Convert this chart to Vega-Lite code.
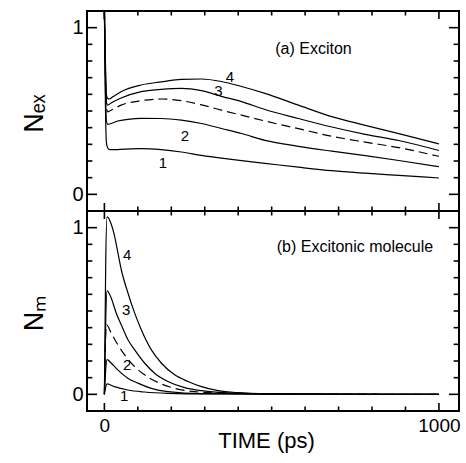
{
  "$schema": "https://vega.github.io/schema/vega-lite/v6.json",
  "padding": {"left": 19, "top": 7, "right": 5, "bottom": 5},
  "bounds": "flush",
  "spacing": 0,
  "datasets": {
    "ex": [
      {"s": "1", "t": 0, "v": 1.1}, {"s": "1", "t": 3, "v": 0.55}, {"s": "1", "t": 6, "v": 0.31}, {"s": "1", "t": 10, "v": 0.278}, {"s": "1", "t": 16, "v": 0.268}, {"s": "1", "t": 30, "v": 0.268}, {"s": "1", "t": 60, "v": 0.271}, {"s": "1", "t": 110, "v": 0.274}, {"s": "1", "t": 170, "v": 0.268}, {"s": "1", "t": 230, "v": 0.254}, {"s": "1", "t": 290, "v": 0.234}, {"s": "1", "t": 350, "v": 0.217}, {"s": "1", "t": 410, "v": 0.202}, {"s": "1", "t": 480, "v": 0.186}, {"s": "1", "t": 580, "v": 0.163}, {"s": "1", "t": 680, "v": 0.142}, {"s": "1", "t": 780, "v": 0.127}, {"s": "1", "t": 880, "v": 0.114}, {"s": "1", "t": 1000, "v": 0.098},
      {"s": "2", "t": 0, "v": 1.1}, {"s": "2", "t": 3, "v": 0.65}, {"s": "2", "t": 6, "v": 0.44}, {"s": "2", "t": 10, "v": 0.42}, {"s": "2", "t": 20, "v": 0.425}, {"s": "2", "t": 40, "v": 0.44}, {"s": "2", "t": 70, "v": 0.45}, {"s": "2", "t": 110, "v": 0.456}, {"s": "2", "t": 170, "v": 0.455}, {"s": "2", "t": 230, "v": 0.445}, {"s": "2", "t": 290, "v": 0.425}, {"s": "2", "t": 350, "v": 0.395}, {"s": "2", "t": 410, "v": 0.365}, {"s": "2", "t": 480, "v": 0.324}, {"s": "2", "t": 580, "v": 0.288}, {"s": "2", "t": 680, "v": 0.259}, {"s": "2", "t": 780, "v": 0.232}, {"s": "2", "t": 880, "v": 0.203}, {"s": "2", "t": 1000, "v": 0.166},
      {"s": "d", "t": 0, "v": 1.1}, {"s": "d", "t": 3, "v": 0.7}, {"s": "d", "t": 6, "v": 0.52}, {"s": "d", "t": 10, "v": 0.495}, {"s": "d", "t": 20, "v": 0.505}, {"s": "d", "t": 50, "v": 0.535}, {"s": "d", "t": 110, "v": 0.562}, {"s": "d", "t": 170, "v": 0.572}, {"s": "d", "t": 230, "v": 0.562}, {"s": "d", "t": 290, "v": 0.537}, {"s": "d", "t": 350, "v": 0.505}, {"s": "d", "t": 410, "v": 0.475}, {"s": "d", "t": 480, "v": 0.44}, {"s": "d", "t": 580, "v": 0.394}, {"s": "d", "t": 680, "v": 0.348}, {"s": "d", "t": 780, "v": 0.313}, {"s": "d", "t": 880, "v": 0.28}, {"s": "d", "t": 1000, "v": 0.228},
      {"s": "3", "t": 0, "v": 1.1}, {"s": "3", "t": 3, "v": 0.75}, {"s": "3", "t": 6, "v": 0.555}, {"s": "3", "t": 10, "v": 0.535}, {"s": "3", "t": 20, "v": 0.548}, {"s": "3", "t": 50, "v": 0.578}, {"s": "3", "t": 110, "v": 0.616}, {"s": "3", "t": 170, "v": 0.63}, {"s": "3", "t": 230, "v": 0.636}, {"s": "3", "t": 290, "v": 0.622}, {"s": "3", "t": 350, "v": 0.588}, {"s": "3", "t": 410, "v": 0.556}, {"s": "3", "t": 480, "v": 0.509}, {"s": "3", "t": 580, "v": 0.455}, {"s": "3", "t": 680, "v": 0.404}, {"s": "3", "t": 780, "v": 0.36}, {"s": "3", "t": 880, "v": 0.323}, {"s": "3", "t": 1000, "v": 0.263},
      {"s": "4", "t": 0, "v": 1.1}, {"s": "4", "t": 3, "v": 0.8}, {"s": "4", "t": 6, "v": 0.6}, {"s": "4", "t": 10, "v": 0.575}, {"s": "4", "t": 15, "v": 0.572}, {"s": "4", "t": 25, "v": 0.585}, {"s": "4", "t": 50, "v": 0.616}, {"s": "4", "t": 110, "v": 0.656}, {"s": "4", "t": 170, "v": 0.675}, {"s": "4", "t": 230, "v": 0.69}, {"s": "4", "t": 290, "v": 0.692}, {"s": "4", "t": 350, "v": 0.677}, {"s": "4", "t": 410, "v": 0.647}, {"s": "4", "t": 480, "v": 0.606}, {"s": "4", "t": 580, "v": 0.535}, {"s": "4", "t": 680, "v": 0.466}, {"s": "4", "t": 780, "v": 0.414}, {"s": "4", "t": 880, "v": 0.364}, {"s": "4", "t": 1000, "v": 0.303}
    ],
    "m": [
      {"s": "4", "t": 0, "v": 0}, {"s": "4", "t": 4, "v": 0.8}, {"s": "4", "t": 8, "v": 1.065}, {"s": "4", "t": 20, "v": 1.024}, {"s": "4", "t": 30, "v": 0.954}, {"s": "4", "t": 40, "v": 0.853}, {"s": "4", "t": 50, "v": 0.752}, {"s": "4", "t": 70, "v": 0.611}, {"s": "4", "t": 90, "v": 0.49}, {"s": "4", "t": 110, "v": 0.389}, {"s": "4", "t": 140, "v": 0.268}, {"s": "4", "t": 170, "v": 0.188}, {"s": "4", "t": 210, "v": 0.117}, {"s": "4", "t": 250, "v": 0.077}, {"s": "4", "t": 290, "v": 0.046}, {"s": "4", "t": 340, "v": 0.022}, {"s": "4", "t": 400, "v": 0.01}, {"s": "4", "t": 500, "v": 0.003}, {"s": "4", "t": 600, "v": 0.001}, {"s": "4", "t": 1000, "v": 0},
      {"s": "3", "t": 0, "v": 0}, {"s": "3", "t": 4, "v": 0.45}, {"s": "3", "t": 8, "v": 0.621}, {"s": "3", "t": 20, "v": 0.58}, {"s": "3", "t": 35, "v": 0.49}, {"s": "3", "t": 50, "v": 0.419}, {"s": "3", "t": 70, "v": 0.329}, {"s": "3", "t": 90, "v": 0.268}, {"s": "3", "t": 120, "v": 0.188}, {"s": "3", "t": 150, "v": 0.127}, {"s": "3", "t": 190, "v": 0.077}, {"s": "3", "t": 240, "v": 0.04}, {"s": "3", "t": 290, "v": 0.022}, {"s": "3", "t": 390, "v": 0.006}, {"s": "3", "t": 500, "v": 0.001}, {"s": "3", "t": 1000, "v": 0},
      {"s": "d", "t": 0, "v": 0}, {"s": "d", "t": 3, "v": 0.3}, {"s": "d", "t": 6, "v": 0.419}, {"s": "d", "t": 20, "v": 0.369}, {"s": "d", "t": 40, "v": 0.298}, {"s": "d", "t": 60, "v": 0.238}, {"s": "d", "t": 90, "v": 0.167}, {"s": "d", "t": 120, "v": 0.117}, {"s": "d", "t": 160, "v": 0.071}, {"s": "d", "t": 210, "v": 0.036}, {"s": "d", "t": 270, "v": 0.016}, {"s": "d", "t": 400, "v": 0.004}, {"s": "d", "t": 1000, "v": 0},
      {"s": "2", "t": 0, "v": 0}, {"s": "2", "t": 4, "v": 0.15}, {"s": "2", "t": 8, "v": 0.208}, {"s": "2", "t": 20, "v": 0.188}, {"s": "2", "t": 40, "v": 0.147}, {"s": "2", "t": 70, "v": 0.097}, {"s": "2", "t": 100, "v": 0.067}, {"s": "2", "t": 140, "v": 0.036}, {"s": "2", "t": 190, "v": 0.016}, {"s": "2", "t": 290, "v": 0.004}, {"s": "2", "t": 1000, "v": 0},
      {"s": "1", "t": 0, "v": 0}, {"s": "1", "t": 4, "v": 0.045}, {"s": "1", "t": 8, "v": 0.0625}, {"s": "1", "t": 30, "v": 0.046}, {"s": "1", "t": 70, "v": 0.026}, {"s": "1", "t": 120, "v": 0.014}, {"s": "1", "t": 190, "v": 0.006}, {"s": "1", "t": 300, "v": 0.002}, {"s": "1", "t": 1000, "v": 0}
    ],
    "exlab": [
      {"t": 375, "v": 0.707, "l": "4"}, {"t": 341, "v": 0.62, "l": "3"}, {"t": 241, "v": 0.353, "l": "2"}, {"t": 175, "v": 0.191, "l": "1"}
    ],
    "mlab": [
      {"t": 68, "v": 0.839, "l": "4"}, {"t": 65, "v": 0.509, "l": "3"}, {"t": 68, "v": 0.179, "l": "2"}, {"t": 59, "v": -0.01, "l": "1"}
    ],
    "extitle": [{"t": 625, "v": 0.845, "l": "(a) Exciton"}],
    "mtitle": [{"t": 749, "v": 0.855, "l": "(b)  Excitonic molecule"}],
    "xmaj": [{"t": 0}, {"t": 1000}],
    "xmin": [{"t": 100}, {"t": 200}, {"t": 300}, {"t": 400}, {"t": 500}, {"t": 600}, {"t": 700}, {"t": 800}, {"t": 900}],
    "ymaj": [{"v": 0}, {"v": 1}],
    "ymin": [{"v": 0.1}, {"v": 0.2}, {"v": 0.3}, {"v": 0.4}, {"v": 0.5}, {"v": 0.6}, {"v": 0.7}, {"v": 0.8}, {"v": 0.9}]
  },
  "vconcat": [
    {
      "width": 372,
      "height": 200,
      "layer": [
        {
          "data": {"name": "ex"},
          "transform": [{"filter": "datum.s != 'd'"}],
          "mark": {"type": "line", "interpolate": "monotone", "color": "black", "strokeWidth": 1.2},
          "encoding": {
            "x": {"field": "t", "type": "quantitative", "scale": {"domain": [-52, 1060], "nice": false, "zero": false},
                  "axis": {"orient": "bottom", "values": [0, 1000], "ticks": false, "tickSize": 0, "labels": false, "title": null}},
            "y": {"field": "v", "type": "quantitative", "scale": {"domain": [-0.1, 1.1], "nice": false, "zero": false},
                  "axis": {"orient": "left", "values": [0, 1], "format": "d", "ticks": false, "tickSize": 0, "labelPadding": 4, "labelFontSize": 20,
                           "title": "Nₑₓ", "titleFontSize": 27, "titleX": -45, "titleY": 102, "titleBaseline": "alphabetic", "titleAngle": 270}},
            "detail": {"field": "s"}
          }
        },
        {
          "data": {"name": "ex"},
          "transform": [{"filter": "datum.s == 'd'"}],
          "mark": {"type": "line", "interpolate": "monotone", "color": "black", "strokeWidth": 1.2, "strokeDash": [9, 5]},
          "encoding": {
            "x": {"field": "t", "type": "quantitative", "scale": {"domain": [-52, 1060], "nice": false, "zero": false}, "axis": null},
            "y": {"field": "v", "type": "quantitative", "scale": {"domain": [-0.1, 1.1], "nice": false, "zero": false}, "axis": null}
          }
        },
        {
          "data": {"name": "exlab"},
          "mark": {"type": "text", "fontSize": 15, "align": "center", "baseline": "middle"},
          "encoding": {
            "x": {"field": "t", "type": "quantitative", "scale": {"domain": [-52, 1060], "nice": false, "zero": false}, "axis": null},
            "y": {"field": "v", "type": "quantitative", "scale": {"domain": [-0.1, 1.1], "nice": false, "zero": false}, "axis": null},
            "text": {"field": "l"}
          }
        },
        {
          "data": {"name": "extitle"},
          "mark": {"type": "text", "fontSize": 16, "align": "center", "baseline": "alphabetic"},
          "encoding": {
            "x": {"field": "t", "type": "quantitative", "scale": {"domain": [-52, 1060], "nice": false, "zero": false}, "axis": null},
            "y": {"field": "v", "type": "quantitative", "scale": {"domain": [-0.1, 1.1], "nice": false, "zero": false}, "axis": null},
            "text": {"field": "l"}
          }
        },
        {
          "data": {"name": "xmaj"},
          "mark": {"type": "rule", "color": "black", "strokeWidth": 1.6},
          "encoding": {
            "x": {"field": "t", "type": "quantitative", "scale": {"domain": [-52, 1060], "nice": false, "zero": false}, "axis": null},
            "y": {"datum": 1.1, "type": "quantitative", "scale": {"domain": [-0.1, 1.1], "nice": false, "zero": false}, "axis": null},
            "y2": {"datum": 1.052}
          }
        },
        {
          "data": {"name": "xmaj"},
          "mark": {"type": "rule", "color": "black", "strokeWidth": 1.6},
          "encoding": {
            "x": {"field": "t", "type": "quantitative", "scale": {"domain": [-52, 1060], "nice": false, "zero": false}, "axis": null},
            "y": {"datum": -0.1, "type": "quantitative", "scale": {"domain": [-0.1, 1.1], "nice": false, "zero": false}, "axis": null},
            "y2": {"datum": -0.052}
          }
        },
        {
          "data": {"name": "xmin"},
          "mark": {"type": "rule", "color": "black", "strokeWidth": 1.6},
          "encoding": {
            "x": {"field": "t", "type": "quantitative", "scale": {"domain": [-52, 1060], "nice": false, "zero": false}, "axis": null},
            "y": {"datum": 1.1, "type": "quantitative", "scale": {"domain": [-0.1, 1.1], "nice": false, "zero": false}, "axis": null},
            "y2": {"datum": 1.073}
          }
        },
        {
          "data": {"name": "xmin"},
          "mark": {"type": "rule", "color": "black", "strokeWidth": 1.6},
          "encoding": {
            "x": {"field": "t", "type": "quantitative", "scale": {"domain": [-52, 1060], "nice": false, "zero": false}, "axis": null},
            "y": {"datum": -0.1, "type": "quantitative", "scale": {"domain": [-0.1, 1.1], "nice": false, "zero": false}, "axis": null},
            "y2": {"datum": -0.073}
          }
        },
        {
          "data": {"name": "ymaj"},
          "mark": {"type": "rule", "color": "black", "strokeWidth": 1.6},
          "encoding": {
            "y": {"field": "v", "type": "quantitative", "scale": {"domain": [-0.1, 1.1], "nice": false, "zero": false}, "axis": null},
            "x": {"datum": -52, "type": "quantitative", "scale": {"domain": [-52, 1060], "nice": false, "zero": false}, "axis": null},
            "x2": {"datum": -22}
          }
        },
        {
          "data": {"name": "ymaj"},
          "mark": {"type": "rule", "color": "black", "strokeWidth": 1.6},
          "encoding": {
            "y": {"field": "v", "type": "quantitative", "scale": {"domain": [-0.1, 1.1], "nice": false, "zero": false}, "axis": null},
            "x": {"datum": 1060, "type": "quantitative", "scale": {"domain": [-52, 1060], "nice": false, "zero": false}, "axis": null},
            "x2": {"datum": 1030}
          }
        },
        {
          "data": {"name": "ymin"},
          "mark": {"type": "rule", "color": "black", "strokeWidth": 1.6},
          "encoding": {
            "y": {"field": "v", "type": "quantitative", "scale": {"domain": [-0.1, 1.1], "nice": false, "zero": false}, "axis": null},
            "x": {"datum": -52, "type": "quantitative", "scale": {"domain": [-52, 1060], "nice": false, "zero": false}, "axis": null},
            "x2": {"datum": -36}
          }
        },
        {
          "data": {"name": "ymin"},
          "mark": {"type": "rule", "color": "black", "strokeWidth": 1.6},
          "encoding": {
            "y": {"field": "v", "type": "quantitative", "scale": {"domain": [-0.1, 1.1], "nice": false, "zero": false}, "axis": null},
            "x": {"datum": 1060, "type": "quantitative", "scale": {"domain": [-52, 1060], "nice": false, "zero": false}, "axis": null},
            "x2": {"datum": 1044}
          }
        }
      ],
      "resolve": {"axis": {"x": "independent", "y": "independent"}}
    },
    {
      "width": 372,
      "height": 200,
      "layer": [
        {
          "data": {"name": "m"},
          "transform": [{"filter": "datum.s != 'd'"}],
          "mark": {"type": "line", "interpolate": "monotone", "color": "black", "strokeWidth": 1.2},
          "encoding": {
            "x": {"field": "t", "type": "quantitative", "scale": {"domain": [-52, 1060], "nice": false, "zero": false},
                  "axis": {"orient": "bottom", "values": [0, 1000], "format": "d", "ticks": false, "tickSize": 0, "labelPadding": 5, "labelFontSize": 19,
                           "title": "TIME (ps)", "titleFontSize": 22, "titleX": 179, "titleY": 36, "titleBaseline": "alphabetic"}},
            "y": {"field": "v", "type": "quantitative", "scale": {"domain": [-0.1, 1.1], "nice": false, "zero": false},
                  "axis": {"orient": "left", "values": [0, 1], "format": "d", "ticks": false, "tickSize": 0, "labelPadding": 4, "labelFontSize": 20,
                           "title": "Nₘ", "titleFontSize": 27, "titleX": -45, "titleY": 102, "titleBaseline": "alphabetic", "titleAngle": 270}},
            "detail": {"field": "s"}
          }
        },
        {
          "data": {"name": "m"},
          "transform": [{"filter": "datum.s == 'd'"}],
          "mark": {"type": "line", "interpolate": "monotone", "color": "black", "strokeWidth": 1.2, "strokeDash": [9, 5]},
          "encoding": {
            "x": {"field": "t", "type": "quantitative", "scale": {"domain": [-52, 1060], "nice": false, "zero": false}, "axis": null},
            "y": {"field": "v", "type": "quantitative", "scale": {"domain": [-0.1, 1.1], "nice": false, "zero": false}, "axis": null}
          }
        },
        {
          "data": {"name": "mlab"},
          "mark": {"type": "text", "fontSize": 15, "align": "center", "baseline": "middle"},
          "encoding": {
            "x": {"field": "t", "type": "quantitative", "scale": {"domain": [-52, 1060], "nice": false, "zero": false}, "axis": null},
            "y": {"field": "v", "type": "quantitative", "scale": {"domain": [-0.1, 1.1], "nice": false, "zero": false}, "axis": null},
            "text": {"field": "l"}
          }
        },
        {
          "data": {"name": "mtitle"},
          "mark": {"type": "text", "fontSize": 16, "align": "center", "baseline": "alphabetic"},
          "encoding": {
            "x": {"field": "t", "type": "quantitative", "scale": {"domain": [-52, 1060], "nice": false, "zero": false}, "axis": null},
            "y": {"field": "v", "type": "quantitative", "scale": {"domain": [-0.1, 1.1], "nice": false, "zero": false}, "axis": null},
            "text": {"field": "l"}
          }
        },
        {
          "data": {"name": "xmaj"},
          "mark": {"type": "rule", "color": "black", "strokeWidth": 1.6},
          "encoding": {
            "x": {"field": "t", "type": "quantitative", "scale": {"domain": [-52, 1060], "nice": false, "zero": false}, "axis": null},
            "y": {"datum": 1.1, "type": "quantitative", "scale": {"domain": [-0.1, 1.1], "nice": false, "zero": false}, "axis": null},
            "y2": {"datum": 1.052}
          }
        },
        {
          "data": {"name": "xmaj"},
          "mark": {"type": "rule", "color": "black", "strokeWidth": 1.6},
          "encoding": {
            "x": {"field": "t", "type": "quantitative", "scale": {"domain": [-52, 1060], "nice": false, "zero": false}, "axis": null},
            "y": {"datum": -0.1, "type": "quantitative", "scale": {"domain": [-0.1, 1.1], "nice": false, "zero": false}, "axis": null},
            "y2": {"datum": -0.052}
          }
        },
        {
          "data": {"name": "xmin"},
          "mark": {"type": "rule", "color": "black", "strokeWidth": 1.6},
          "encoding": {
            "x": {"field": "t", "type": "quantitative", "scale": {"domain": [-52, 1060], "nice": false, "zero": false}, "axis": null},
            "y": {"datum": 1.1, "type": "quantitative", "scale": {"domain": [-0.1, 1.1], "nice": false, "zero": false}, "axis": null},
            "y2": {"datum": 1.073}
          }
        },
        {
          "data": {"name": "xmin"},
          "mark": {"type": "rule", "color": "black", "strokeWidth": 1.6},
          "encoding": {
            "x": {"field": "t", "type": "quantitative", "scale": {"domain": [-52, 1060], "nice": false, "zero": false}, "axis": null},
            "y": {"datum": -0.1, "type": "quantitative", "scale": {"domain": [-0.1, 1.1], "nice": false, "zero": false}, "axis": null},
            "y2": {"datum": -0.073}
          }
        },
        {
          "data": {"name": "ymaj"},
          "mark": {"type": "rule", "color": "black", "strokeWidth": 1.6},
          "encoding": {
            "y": {"field": "v", "type": "quantitative", "scale": {"domain": [-0.1, 1.1], "nice": false, "zero": false}, "axis": null},
            "x": {"datum": -52, "type": "quantitative", "scale": {"domain": [-52, 1060], "nice": false, "zero": false}, "axis": null},
            "x2": {"datum": -22}
          }
        },
        {
          "data": {"name": "ymaj"},
          "mark": {"type": "rule", "color": "black", "strokeWidth": 1.6},
          "encoding": {
            "y": {"field": "v", "type": "quantitative", "scale": {"domain": [-0.1, 1.1], "nice": false, "zero": false}, "axis": null},
            "x": {"datum": 1060, "type": "quantitative", "scale": {"domain": [-52, 1060], "nice": false, "zero": false}, "axis": null},
            "x2": {"datum": 1030}
          }
        },
        {
          "data": {"name": "ymin"},
          "mark": {"type": "rule", "color": "black", "strokeWidth": 1.6},
          "encoding": {
            "y": {"field": "v", "type": "quantitative", "scale": {"domain": [-0.1, 1.1], "nice": false, "zero": false}, "axis": null},
            "x": {"datum": -52, "type": "quantitative", "scale": {"domain": [-52, 1060], "nice": false, "zero": false}, "axis": null},
            "x2": {"datum": -36}
          }
        },
        {
          "data": {"name": "ymin"},
          "mark": {"type": "rule", "color": "black", "strokeWidth": 1.6},
          "encoding": {
            "y": {"field": "v", "type": "quantitative", "scale": {"domain": [-0.1, 1.1], "nice": false, "zero": false}, "axis": null},
            "x": {"datum": 1060, "type": "quantitative", "scale": {"domain": [-52, 1060], "nice": false, "zero": false}, "axis": null},
            "x2": {"datum": 1044}
          }
        }
      ],
      "resolve": {"axis": {"x": "independent", "y": "independent"}}
    }
  ],
  "config": {
    "background": "white",
    "view": {"stroke": "black", "strokeWidth": 2},
    "axis": {"domain": false, "grid": false, "labelColor": "black", "titleColor": "black",
             "labelFont": "Liberation Sans", "titleFont": "Liberation Sans", "titleFontWeight": "normal"},
    "text": {"font": "Liberation Sans", "color": "black"}
  }
}
